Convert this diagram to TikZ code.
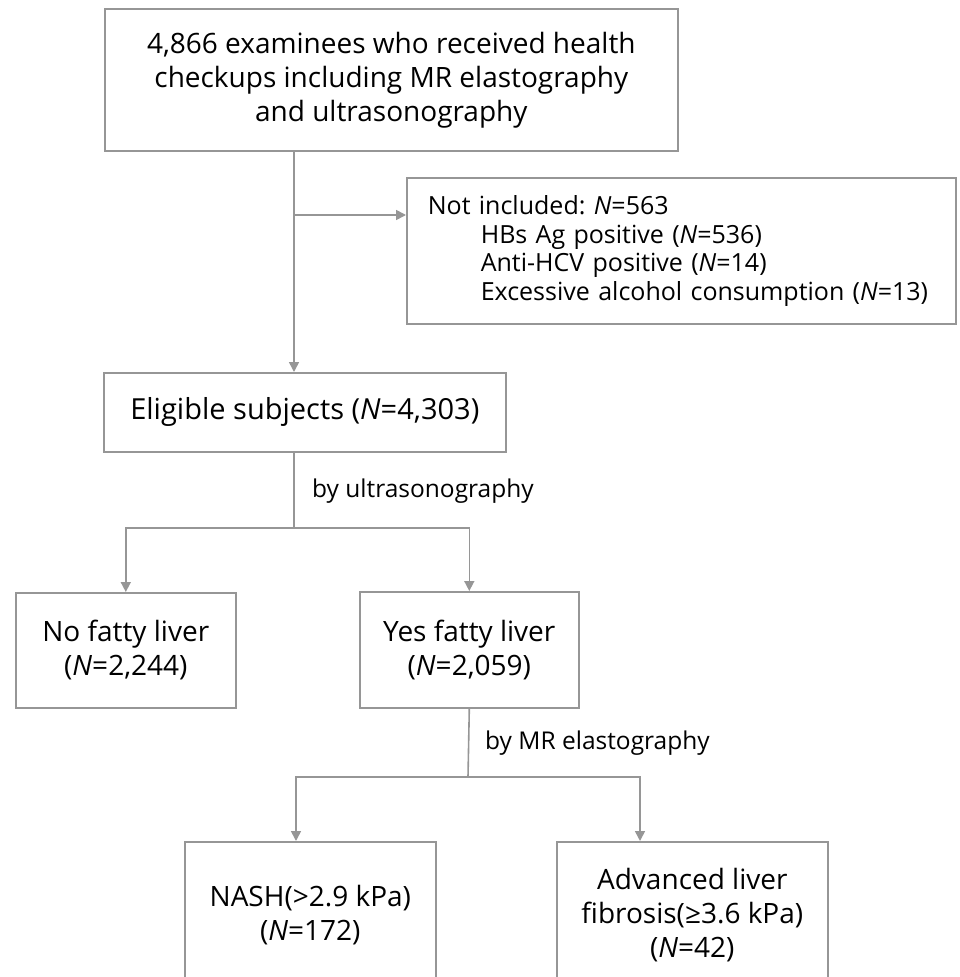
\documentclass[tikz,border=0pt]{standalone}
\usepackage{fontspec}
\setmainfont{Open Sans}
\usetikzlibrary{arrows.meta, positioning}
\definecolor{flowgray}{RGB}{150,150,150}
\tikzset{
	box/.style={rectangle, draw=flowgray, line width=1.6pt, anchor=north west, inner sep=0pt, align=center, font=\fontsize{28}{34}\selectfont},
	line/.style={draw=flowgray, line width=1.6pt},
	arrow/.style={line, -{Triangle[length=10pt, width=10pt]}},
	note/.style={anchor=west, inner sep=0pt, font=\fontsize{24.5}{28}\selectfont}
}
\newcommand{\nn}{\textit{N}}

\begin{document}
\begin{tikzpicture}[x=1pt, y=-1pt]
	\useasboundingbox (0,0) rectangle (959,977);
	\clip (0,0) rectangle (959,977);

	% Boxes of the flow chart
	\node[box, minimum width=573pt, minimum height=142pt] (exam) at (104,8) {4,866 examinees who received health\\checkups including MR elastography\\and ultrasonography};
	\node[box, minimum width=549pt, minimum height=146pt, text width=507pt, align=left, font=\fontsize{25}{28.5}\selectfont] (excl) at (406,177) {Not included:\ \nn=563\\\hspace*{53pt}HBs Ag positive (\nn=536)\\\hspace*{53pt}Anti-HCV positive (\nn=14)\\\hspace*{53pt}Excessive alcohol consumption (\nn=13)};
	\node[box, minimum width=402pt, minimum height=79pt, font=\fontsize{29}{34}\selectfont] (elig) at (103,372) {Eligible subjects (\nn=4,303)};
	\node[box, minimum width=220pt, minimum height=115pt] (nofat) at (15,592) {No fatty liver\\(\nn=2,244)};
	\node[box, minimum width=219pt, minimum height=116pt] (yesfat) at (359,591) {Yes fatty liver\\(\nn=2,059)};
	\node[box, minimum width=251pt, minimum height=146pt] (nash) at (184,841) {NASH(>2.9 kPa)\\(\nn=172)};
	\node[box, minimum width=271pt, minimum height=146pt] (adv) at (556,841) {Advanced liver\\fibrosis(≥3.6 kPa)\\(\nn=42)};

	% Labels on the splits
	\node[note] (uslab) at (312,491) {by ultrasonography};
	\node[note] (mrlab) at (485,743) {by MR elastography};

	% Branch points
	\coordinate (branch) at (294,215);
	\coordinate (split1) at (294,528);
	\coordinate (split2) at (468,777);
	\coordinate (nashin) at (296,777);
	\coordinate (advin) at (640,777);

	% Connectors
	\draw[arrow] (exam.south -| branch) -- (elig.north -| branch);
	\draw[arrow] (branch) -- (branch -| excl.west);
	\draw[line] (elig.south -| split1) -- (split1);
	\draw[arrow] (split1) -| (nofat.north);
	\draw[arrow] (split1) -| (yesfat.north);
	\draw[line] (yesfat.south) -- (split2);
	\draw[arrow] (split2) -| (nash.north -| nashin);
	\draw[arrow] (split2) -| (adv.north -| advin);
\end{tikzpicture}
\end{document}
